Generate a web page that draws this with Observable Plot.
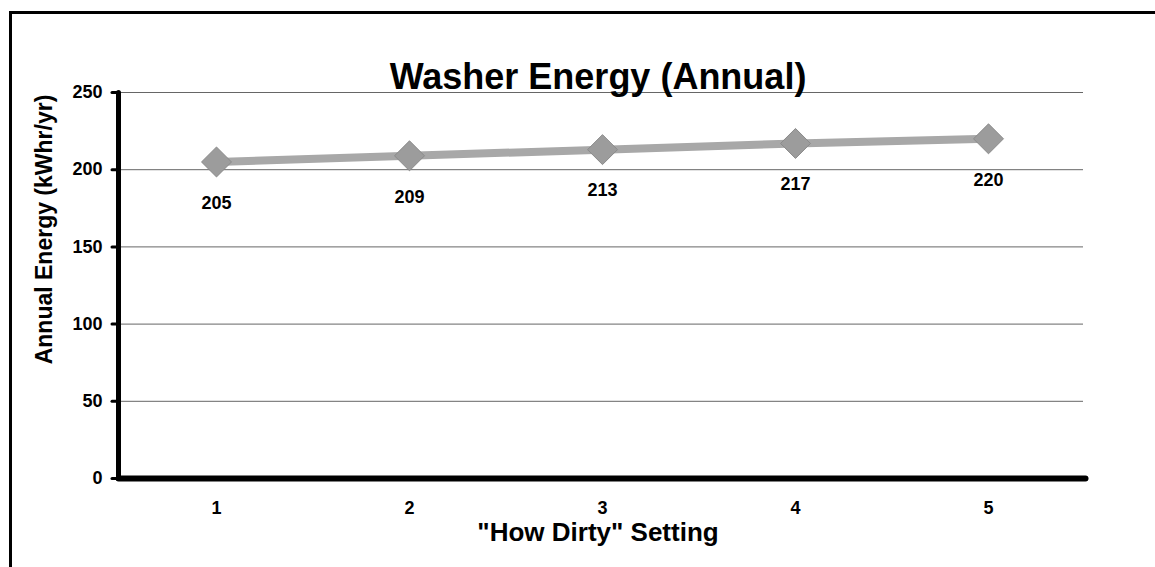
<!DOCTYPE html>
<html>
<head>
<meta charset="utf-8">
<script src="https://cdn.jsdelivr.net/npm/d3@7"></script>
<script src="https://cdn.jsdelivr.net/npm/@observablehq/plot@0.6"></script>
<style>
  html, body { margin: 0; padding: 0; background: #fff; }
  #wrap { position: relative; width: 1155px; height: 567px; overflow: hidden; }
  #border { position: absolute; left: 9px; top: 11px; width: 1200px; height: 553px;
            border-top: 3px solid #000; border-left: 3px solid #000; border-bottom: 3px solid #000; }
  #chart { position: absolute; left: 0; top: 0; }
</style>
</head>
<body>
<div id="wrap"><div id="border"></div><div id="chart"></div></div>
<script>
const settings = [1, 2, 3, 4, 5];
const energy = [205, 209, 213, 217, 220];
const yTicks = [0, 50, 100, 150, 200, 250];
const titleText = "Washer Energy (Annual)";
const xLabel = "\"How Dirty\" Setting";
const yLabel = "Annual Energy (kWhr/yr)";

const data = settings.map((s, i) => ({setting: s, energy: energy[i]}));
const font = "Arial, 'Liberation Sans', Helvetica, sans-serif";

const chart = Plot.plot({
  width: 1155,
  height: 567,
  marginLeft: 118,
  marginRight: 70,
  marginTop: 92,
  marginBottom: 89,
  style: {fontFamily: font, background: "transparent", overflow: "visible"},
  x: {type: "point", domain: settings, padding: 0.5},
  y: {domain: [0, 250]},
  marks: [
    Plot.gridY(yTicks.filter(d => d > 0), {stroke: "#666", strokeOpacity: 1, strokeWidth: 1, insetRight: 2}),
    Plot.axisY(yTicks, {tickSize: 6, tickPadding: 10, strokeWidth: 3, strokeLinecap: "round",
      fontSize: 18, fontWeight: "bold", fill: "#000", label: null}),
    Plot.axisX(settings, {tickSize: 0, tickPadding: 23, fontSize: 18, fontWeight: "bold", fill: "#000", label: null}),
    Plot.frame({anchor: "left", strokeWidth: 5, stroke: "#000", strokeLinecap: "round"}),
    Plot.frame({anchor: "bottom", strokeWidth: 6, stroke: "#000", strokeLinecap: "round"}),
    Plot.line(data, {x: "setting", y: "energy", stroke: "#a8a8a8", strokeWidth: 8}),
    Plot.dot(data, {x: "setting", y: "energy", symbol: "diamond2", r: 13.5, fill: "#9c9c9c", stroke: "#8a8a8a", strokeWidth: 1}),
    Plot.text(data, {x: "setting", y: "energy", text: d => String(d.energy), dy: 41, fontSize: 18, fontWeight: "bold", fill: "#000"}),
    Plot.text([titleText], {frameAnchor: "top", dx: -4, dy: -4, lineAnchor: "bottom", fontSize: 36, fontWeight: "bold", fill: "#000"}),
    Plot.text([xLabel], {frameAnchor: "bottom", dx: -4, dy: 62, fontSize: 26, fontWeight: "bold", fill: "#000"}),
    Plot.text([yLabel], {frameAnchor: "left", textAnchor: "middle", rotate: -90, dx: -74, dy: -56, fontSize: 23, fontWeight: "bold", fill: "#000"})
  ]
});
document.getElementById("chart").appendChild(chart);
</script>
</body>
</html>
